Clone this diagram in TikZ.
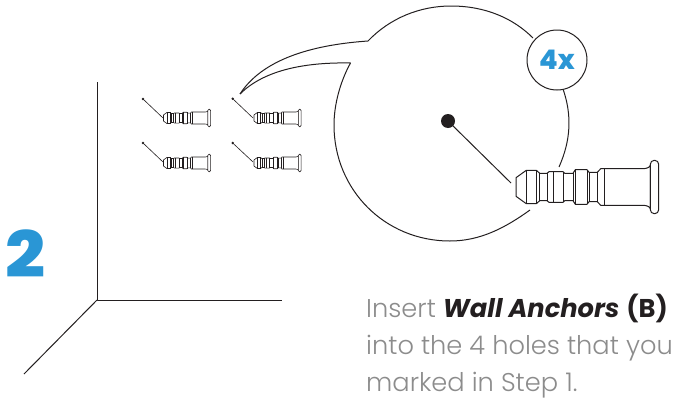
\documentclass[tikz,border=0pt]{standalone}
\usepackage{fontspec}
\setmainfont{Poppins}[UprightFont=* Light,BoldFont=* Bold,BoldItalicFont=* Bold Italic]
\newfontfamily\heavyfont{Poppins ExtraBold}
\definecolor{stepblue}{HTML}{2A96D5}
\definecolor{bodygray}{HTML}{8C8C8C}
\definecolor{inkblack}{HTML}{231F20}
\tikzset{
  ink/.style={draw=inkblack,line width=1pt,line join=round},
  fineink/.style={draw=inkblack,line width=0.6pt,line join=round},
  bodytext/.style={anchor=base west,inner sep=0pt,font=\fontsize{25.7}{25.7}\selectfont,text=bodygray},
}
\newcommand{\wallanchor}[5]{%
\begin{scope}[shift={(#1,#2)},x=#3pt,y=#3pt]
 \draw[#4] (0,9.3) -- (10.3,16.7) -- (20.3,16.7) -- (23.7,13.7) -- (31,13.7) -- (33,15.3) -- (47,15.3) -- (48.7,13.7) -- (57,13.7) -- (59.3,17.3) -- (71,17.3) -- (73,14.7) -- (81.3,14.7) -- (84.7,18.3) -- (127,18.3) .. controls (131,18.3) and (134.3,20) .. (134.3,22)
   -- (134.3,-22) .. controls (134.3,-20) and (131,-18.3) .. (127,-18.3) -- (84.7,-18.3) -- (81.3,-14.7) -- (73,-14.7) -- (71,-17.3) -- (59.3,-17.3) -- (57,-13.7) -- (48.7,-13.7) -- (47,-15.3) -- (33,-15.3) -- (31,-13.7) -- (23.7,-13.7) -- (20.3,-16.7) -- (10.3,-16.7) -- (0,-9.3) -- cycle;
 \foreach \vx/\vh in {10.3/16.7,20.3/16.7,23.7/13.7,31/13.7,37/15.3,47/15.3,57/13.7,59.3/17.3,71/17.3,73/14.7,81.3/14.7,88/18.3}
   \draw[#4] (\vx,-\vh) -- (\vx,\vh);
 \draw[#4,fill=white,rounded corners=#5pt] (134.3,-26.7) rectangle (142.7,26.7);
\end{scope}}
\begin{document}
\begin{tikzpicture}[x=1pt,y=-1pt]
\useasboundingbox (0,0) rectangle (679,399);
% wall corner
\coordinate (corner) at (97,300);
\coordinate (walltop) at (97,82);
\coordinate (wallright) at (282,300);
\coordinate (floorfront) at (24,374);
\draw[ink] (walltop) -- (corner) -- (wallright);
\draw[ink] (corner) -- (floorfront);
% small anchors
\wallanchor{163.5}{118}{0.33}{fineink}{1.3}
\wallanchor{254}{118}{0.33}{fineink}{1.3}
\wallanchor{163.5}{163}{0.33}{fineink}{1.3}
\wallanchor{254}{163}{0.33}{fineink}{1.3}
\foreach \dx/\dy/\ex/\ey/\nm in {143/99/163/118/a,232.7/98.7/253/118/b,143/143/163/162/c,232.7/143/253/162/d}{
  \node[circle,fill=inkblack,inner sep=0pt,minimum size=2.6pt] (dot\nm) at (\dx,\dy) {};
  \coordinate (pin\nm) at (\ex,\ey);
  \draw[fineink] (dot\nm.center) -- (pin\nm);
}
% callout bubble
\coordinate (tailtip) at (240,94);
\coordinate (upperjoin) at (368,41);
\coordinate (lowerjoin) at (350.5,63);
\draw[ink] (tailtip) .. controls (262,60) and (310,45) .. (upperjoin)
  .. controls (390,18) and (420,6) .. (451,6)
  .. controls (485,6) and (513,18) .. (533,38);
\draw[ink] (tailtip) .. controls (262,72) and (300,62) .. (lowerjoin)
  .. controls (340,82) and (334,105) .. (334,125)
  .. controls (334,190) and (385,241) .. (450,241)
  .. controls (480,241) and (505,228) .. (530,210);
\draw[ink] (563,89) .. controls (572,115) and (571,140) .. (559,167);
% big anchor
\wallanchor{516}{187}{1}{ink}{4}
\node[circle,fill=inkblack,inner sep=0pt,minimum size=14pt] (bigdot) at (448,121) {};
\coordinate (bigpin) at (511,183);
\draw[ink] (bigdot.center) -- (bigpin);
% 4x
\node[circle,draw=inkblack,line width=1pt,fill=white,minimum size=60pt,inner sep=0pt,text=stepblue,font=\heavyfont\fontsize{27}{27}\selectfont] (count) at (557,60) {4x};
% step number
\node[anchor=base west,inner sep=0pt,text=stepblue,font=\heavyfont\fontsize{64}{64}\selectfont,xscale=1.1] (stepnum) at (5,277) {2};
% text
\node[bodytext] (l1) at (366,317) {Insert {\color{inkblack}\bfseries\itshape Wall Anchors} {\color{inkblack}\bfseries (B)}};
\node[bodytext] (l2) at (366,354) {into the 4 holes that you};
\node[bodytext] (l3) at (366,391) {marked in Step 1.};
\end{tikzpicture}
\end{document}
